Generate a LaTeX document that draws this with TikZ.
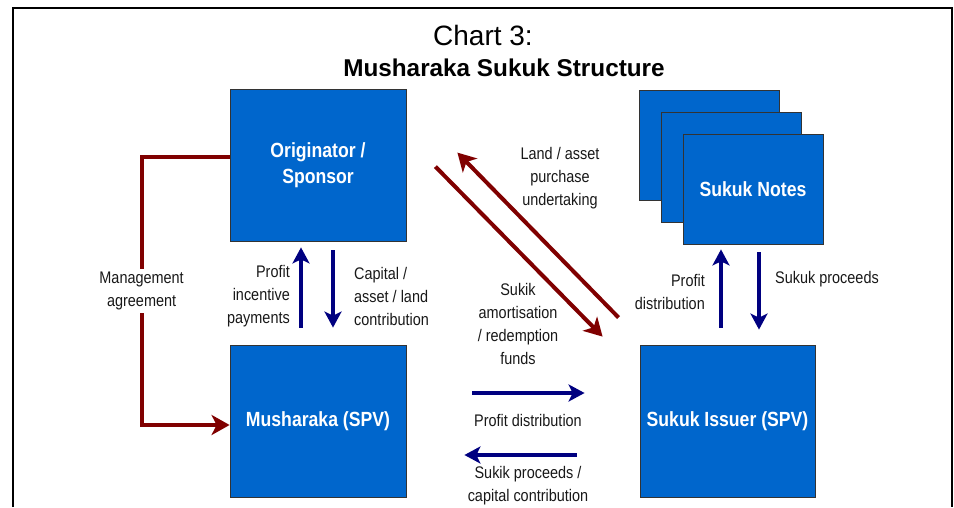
\documentclass[tikz,border=0pt]{standalone}
\usepackage{fontspec}
\setmainfont{Liberation Sans}
\newfontfamily\narrowfont[FakeStretch=0.86]{Liberation Sans}
\usetikzlibrary{arrows.meta,positioning}

\definecolor{boxblue}{HTML}{0066CC}
\definecolor{flowred}{HTML}{800000}
\definecolor{flownavy}{HTML}{000080}
\definecolor{labelgrey}{HTML}{181818}

\tikzset{
  entity/.style={draw=black!80, line width=0.8pt, fill=boxblue,
    text=white, font=\narrowfont\bfseries\fontsize{20.5}{26}\selectfont,
    align=center, minimum width=176pt, minimum height=152pt, inner sep=0pt},
  notebox/.style={entity, minimum width=140pt, minimum height=110pt},
  flowlabel/.style={text=labelgrey, font=\narrowfont\fontsize{16.8}{23}\selectfont,
    inner sep=0pt},
  redflow/.style={draw=flowred, line width=4pt,
    -{Stealth[length=18pt,width=20pt,inset=5pt]}},
  blueflow/.style={draw=flownavy, line width=4.5pt,
    -{Stealth[length=16pt,width=17pt,inset=4pt]}}
}

\begin{document}
\begin{tikzpicture}[x=1pt,y=-1pt]
    \useasboundingbox (0,0) rectangle (954,507);
    % frame
    \draw[line width=2.5pt] (13,507) -- (13,8) -- (952,8) -- (952,507);

    % title
    \node (chart) at (483,35) {\fontsize{28}{32}\selectfont Chart 3:};
    \node[font=\bfseries\fontsize{24.3}{28}\selectfont] (title) at (504,68)
        {Musharaka Sukuk Structure};

    % entities
    \node[entity] (orig) at (318,165) {Originator /\\Sponsor};
    \node[entity] (mush) at (318,421) {Musharaka (SPV)};
    \node[entity, minimum width=175pt] (issuer) at (727.5,421) {Sukuk Issuer (SPV)};
    \node[notebox] (noteA) at (709,145) {};
    \node[notebox] (noteB) at (731,167) {};
    \node[notebox] (notes) at (753,189) {Sukuk Notes};

    % management agreement
    \draw[redflow] ([yshift=8pt]orig.west) -- ++(-88,0) |- ([yshift=-4pt]mush.west)
        node[pos=0.25, fill=white, flowlabel, align=center, inner sep=3pt] (mgmt)
        {Management\\agreement};

    % originator <-> musharaka
    \draw[blueflow, shorten <=17pt, shorten >=6pt]
        ([xshift=-17pt]mush.north) -- ([xshift=-17pt]orig.south);
    \draw[blueflow, shorten <=9pt, shorten >=17pt]
        ([xshift=15pt]orig.south) -- ([xshift=15pt]mush.north);
    \node[flowlabel, align=right, anchor=east] (incent) at (290,296)
        {Profit\\incentive\\payments};
    \node[flowlabel, align=left, anchor=west] (capital) at (354,296)
        {Capital /\\asset / land\\contribution};

    % musharaka <-> issuer
    \draw[blueflow, shorten <=66pt, shorten >=55pt]
        ([yshift=28pt]mush.east) -- ([yshift=28pt]issuer.west);
    \draw[blueflow, shorten <=63pt, shorten >=58pt]
        ([yshift=-34pt]issuer.west) -- ([yshift=-34pt]mush.east);
    \node[flowlabel] (profitd) at (528,420) {Profit distribution};
    \node[flowlabel, align=center] (proceeds) at (528,486)
        {Sukik proceeds /\\capital contribution};

    % originator <-> issuer
    \draw[redflow] ([xshift=29pt, yshift=-78pt]orig.north east)
        -- ([xshift=-37pt, yshift=8pt]issuer.north west);
    \draw[redflow] ([xshift=-21pt, yshift=27pt]issuer.north west)
        -- ([xshift=51pt, yshift=-64pt]orig.north east);
    \node[flowlabel, align=center] (landasset) at (560,178)
        {Land / asset\\purchase\\undertaking};
    \node[flowlabel, align=center] (amort) at (518,324)
        {Sukik\\amortisation\\/ redemption\\funds};

    % issuer <-> notes
    \draw[blueflow, shorten <=17pt, shorten >=5pt]
        ([xshift=-6.5pt]issuer.north) -- ([xshift=-6.5pt]issuer.north |- notes.south);
    \draw[blueflow, shorten <=8pt, shorten >=15pt]
        ([xshift=31.5pt]issuer.north |- notes.south) -- ([xshift=31.5pt]issuer.north);
    \node[flowlabel, align=right, anchor=east] (profitn) at (705,292)
        {Profit\\distribution};
    \node[flowlabel, anchor=west] (sproceeds) at (775,279) {Sukuk proceeds};
\end{tikzpicture}
\end{document}
